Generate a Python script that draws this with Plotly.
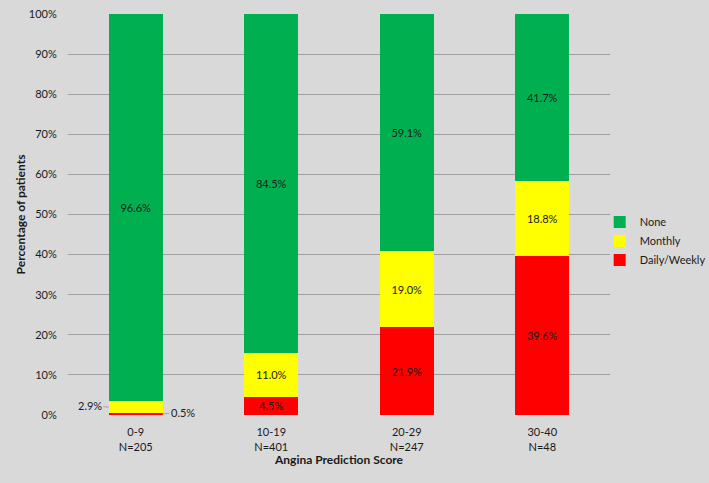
import plotly.graph_objects as go

categories = ["0-9<br>N=205", "10-19<br>N=401", "20-29<br>N=247", "30-40<br>N=48"]
daily_weekly = [0.5, 4.5, 21.9, 39.6]
monthly = [2.9, 11.0, 19.0, 18.8]
none = [96.6, 84.5, 59.1, 41.7]
y_ticks = list(range(0, 101, 10))

font = "Lato, 'Open Sans', sans-serif"


def labels(values, skip_first=False):
    out = [f"{v:.1f}%" for v in values]
    if skip_first:
        out[0] = ""
    return out


fig = go.Figure()
fig.add_trace(go.Bar(x=categories, y=daily_weekly, name="Daily/Weekly",
                     marker_color="#FF0000", text=labels(daily_weekly, True),
                     legendgroup="d"))
fig.add_trace(go.Bar(x=categories, y=monthly, name="Monthly",
                     marker_color="#FFFF00", text=labels(monthly, True),
                     legendgroup="m"))
fig.add_trace(go.Bar(x=categories, y=none, name="None",
                     marker_color="#00B050", text=labels(none),
                     legendgroup="n"))
fig.update_traces(textposition="inside", insidetextanchor="middle",
                  textangle=0, textfont=dict(color="#1a1a1a", size=11),
                  marker_line_width=0, width=0.4)

# small segments of the first bar are labelled outside with leader lines
fig.add_annotation(x=0, y=daily_weekly[0] + monthly[0] / 2, xshift=-27,
                   text=f"{monthly[0]:.1f}%", showarrow=True, arrowhead=0,
                   arrowwidth=1, arrowcolor="#A6A6A6", ax=-19, ay=-2,
                   font=dict(size=11, color="#1a1a1a"))
fig.add_annotation(x=0, y=daily_weekly[0] / 2, xshift=27,
                   text=f"{daily_weekly[0]:.1f}%", showarrow=True, arrowhead=0,
                   arrowwidth=1, arrowcolor="#A6A6A6", ax=20, ay=-2,
                   font=dict(size=11, color="#1a1a1a"))

fig.update_layout(
    barmode="stack",
    width=709, height=483,
    margin=dict(l=68, r=99, t=14, b=68, autoexpand=False),
    paper_bgcolor="#D9D9D9", plot_bgcolor="#D9D9D9",
    font=dict(family=font, size=11, color="#1a1a1a"),
    uniformtext=dict(minsize=11, mode="show"),
    legend=dict(traceorder="reversed", x=0.981, y=0.434, yanchor="middle",
                xanchor="left", font=dict(size=11, color="#1a1a1a"),
                bgcolor="rgba(0,0,0,0)", tracegroupgap=3),
    showlegend=True,
)
fig.update_xaxes(title=dict(text="<b>Angina Prediction Score</b>", standoff=4,
                            font=dict(size=12, color="#1a1a1a")),
                 showgrid=False, showline=False, automargin=True,
                 ticks="outside", ticklen=7, tickcolor="rgba(0,0,0,0)",
                 tickfont=dict(size=11))
fig.update_yaxes(range=[0, 100], tickmode="array", tickvals=y_ticks,
                 ticktext=[f"{v}%" for v in y_ticks],
                 showgrid=True, gridcolor="#A0A0A0", gridwidth=1,
                 zeroline=False, showline=False, automargin=True,
                 ticks="outside", ticklen=8, tickcolor="rgba(0,0,0,0)",
                 title=dict(text="<b>Percentage of patients</b>", standoff=0,
                            font=dict(size=12, color="#1a1a1a")),
                 tickfont=dict(size=11))

fig.write_html("out.html", config={"displayModeBar": False},
               post_script="document.body.style.margin='0';")
